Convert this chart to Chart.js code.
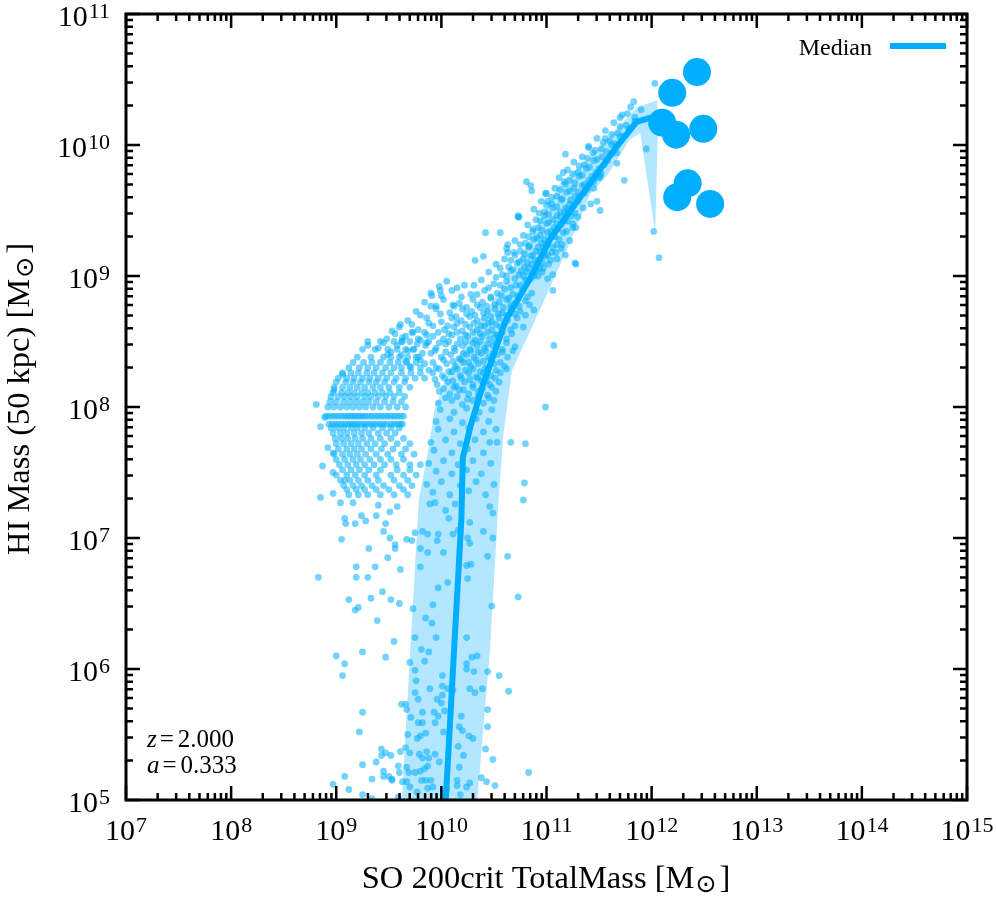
<!DOCTYPE html>
<html>
<head>
<meta charset="utf-8">
<title>HI Mass vs SO 200crit TotalMass</title>
<script src="https://cdn.jsdelivr.net/npm/chart.js@4.4.1/dist/chart.umd.min.js"></script>
<style>
  html, body { margin: 0; padding: 0; background: #fff; }
  #wrap { width: 996px; height: 900px; }
</style>
</head>
<body>
<div id="wrap"><canvas id="hiMassChart" width="996" height="900"></canvas></div>
<script>
// axis decades (tick labels are 10^n)
const xTickExponents = [7, 8, 9, 10, 11, 12, 13, 14, 15];
const yTickExponents = [5, 6, 7, 8, 9, 10, 11];
const minorMultipliers = [1, 2, 3, 4, 5, 6, 7, 8, 9];

// median curve
const medianMass = [1.1e10, 1.55e10, 1.6e10, 1.9e10, 2.5e10, 4.1e10, 7.1e10, 1.1e11, 2.0e11, 4.4e11, 7.2e11, 9.4e11, 1.17e12];
const medianHI   = [1e5, 1.4e7, 4.1e7, 7.2e7, 1.5e8, 4.6e8, 9.8e8, 1.95e9, 3.8e9, 9.2e9, 1.5e10, 1.6e10, 1.65e10];

// percentile band: upper edge (bottom -> top), then lower edge (top -> bottom)
const bandUpperMass = [4.2e9, 6.1e9, 7.5e9, 8.7e9, 1.2e10, 2.3e10, 4.5e10, 7.4e10, 1.35e11, 2.6e11, 7.3e11, 1.13e12];
const bandUpperHI   = [1e5, 1.95e7, 4.7e7, 1e8, 1.9e8, 4.6e8, 1.0e9, 2.1e9, 5.1e9, 8.1e9, 1.95e10, 2.2e10];
const bandLowerMass = [1.15e12, 1.08e12, 7.8e11, 6.2e11, 3.8e11, 2.6e11, 1.57e11, 8.1e10, 4.7e10, 3.9e10, 3.5e10, 2.9e10, 2.2e10];
const bandLowerHI   = [1.4e10, 2.15e9, 1.24e10, 1.1e10, 5.9e9, 4.2e9, 1.6e9, 4.9e8, 1.9e8, 6.3e7, 1.95e7, 1.4e6, 1e5];

// most massive haloes (big markers)
const haloMass = [2.7e12, 1.57e12, 1.26e12, 1.71e12, 3.1e12, 2.2e12, 1.75e12, 3.6e12];
const haloHI   = [3.6e10, 2.5e10, 1.48e10, 1.2e10, 1.33e10, 5.1e9, 4.0e9, 3.55e9];

// individual haloes, stored as [log10 M200, log10 M_HI]
const sparseTailLog = [
  [9.04,7.27],[9.16,7.27],[9.40,7.25],[9.51,7.20],[9.58,7.24],[9.08,7.15],[9.09,7.11],[9.18,7.11],[9.24,7.17],[9.28,7.13],
  [9.38,7.17],[9.47,7.11],[9.45,7.05],[9.05,6.99],[9.51,7.00],[9.56,6.95],[9.56,6.92],[9.31,6.92],[9.67,6.99],[9.72,6.98],
  [9.75,7.04],[9.82,7.05],[9.87,7.03],[9.97,7.03],[9.96,6.98],[9.80,6.92],[9.87,6.89],[10.02,6.89],[10.11,7.03],[10.16,7.06],
  [10.25,7.00],[10.27,6.96],[10.40,7.05],[10.49,7.00],[10.44,6.86],[10.49,7.19],[10.46,7.24],[10.27,7.12],[10.04,7.21],[10.13,7.26],
  [9.94,7.27],[9.89,7.26],[10.07,7.15],[10.63,6.86],[10.78,7.29],[9.49,6.85],[8.83,6.70],[9.19,6.78],[9.19,6.70],[9.30,6.70],
  [9.37,6.78],[9.61,6.76],[9.80,6.78],[10.24,6.79],[10.28,6.80],[10.25,6.69],[9.97,6.62],[10.06,6.66],[9.12,6.53],[9.21,6.47],
  [9.18,6.45],[9.33,6.54],[9.44,6.59],[9.52,6.53],[9.60,6.50],[9.73,6.46],[9.92,6.49],[10.48,6.48],[10.73,6.55],[9.39,6.37],
  [9.85,6.39],[9.91,6.35],[9.75,6.24],[9.95,6.24],[10.24,6.24],[9.55,6.21],[9.00,6.10],[9.25,6.13],[9.47,6.09],[9.08,6.04],
  [9.06,5.95],[9.81,6.15],[9.88,6.13],[9.70,6.05],[9.84,6.06],[9.75,5.99],[9.76,5.91],[10.01,5.95],[10.24,6.04],[10.24,6.00],
  [10.31,5.98],[10.29,6.09],[10.34,6.10],[10.44,5.98],[10.55,5.95],[10.27,5.85],[10.32,5.82],[10.39,5.85],[10.64,5.83],[9.89,5.85],
  [10.01,5.87],[10.01,5.80],[10.06,5.85],[10.11,5.84],[9.75,5.82],[9.78,5.77],[9.62,5.73],[9.66,5.73],[9.67,5.69],[9.96,5.77],
  [10.00,5.74],[10.03,5.68],[9.82,5.67],[9.93,5.67],[9.97,5.64],[10.19,5.64],[10.44,5.69],[9.25,5.67],[9.22,5.52],[9.71,5.63],
  [9.78,5.59],[9.82,5.59],[9.94,5.59],[10.02,5.52],[9.85,5.51],[9.68,5.50],[9.77,5.47],[9.80,5.49],[10.17,5.56],[10.20,5.53],
  [10.26,5.49],[10.30,5.47],[10.44,5.56],[9.66,5.40],[10.16,5.41],[10.42,5.39],[9.43,5.39],[9.43,5.34],[9.47,5.36],[9.52,5.34],
  [9.61,5.37],[9.70,5.36],[9.79,5.35],[9.82,5.32],[9.86,5.37],[9.88,5.32],[9.94,5.35],[9.98,5.29],[10.17,5.25],[10.21,5.34],
  [10.49,5.31],[9.25,5.27],[9.38,5.29],[9.45,5.22],[9.50,5.18],[9.53,5.15],[9.59,5.26],[9.60,5.21],[9.67,5.25],[9.69,5.21],
  [9.75,5.21],[9.80,5.22],[9.84,5.24],[9.87,5.26],[9.90,5.15],[9.85,5.15],[9.81,5.15],[9.67,5.14],[9.63,5.14],[9.70,5.10],
  [9.77,5.06],[9.87,5.09],[9.92,5.10],[9.08,5.18],[9.34,5.16],[9.45,5.18],[9.53,5.16],[10.15,5.15],[10.15,5.11],[10.24,5.10],
  [10.27,5.13],[10.38,5.17],[10.43,5.14],[10.51,5.11],[10.83,5.21],[8.97,5.12],[9.12,5.08],[9.25,5.04],[9.34,5.01],[10.18,5.04],
  [10.05,5.08],[9.59,5.02]
];

const outlierLog = [
  [8.81,8.02],[8.98,8.13],[8.85,7.85],[8.89,7.92],[8.92,7.69],[8.87,7.55],[8.97,7.65],[8.97,7.50],[9.08,7.44],[8.85,7.31],
  [8.97,7.34],[9.06,8.25],[9.30,8.47],[9.49,8.40],[9.61,8.63],[9.53,8.58],[9.63,8.53],[9.73,8.57],[9.84,8.57],[9.78,8.52],
  [9.86,8.49],[9.99,8.89],[9.91,8.85],[9.95,8.77],[10.12,8.77],
  [12.03,10.47],[11.83,10.33],[11.95,9.97],[11.74,9.73],[11.28,9.09],[10.81,9.72],[10.86,9.65],[12.02,9.34],[12.07,9.14],
  [11.40,9.98],[11.56,10.05],[11.70,10.21],[11.77,10.24],[11.67,9.86],[11.51,9.76],[11.48,9.57],[11.28,9.37],[11.16,9.79],
  [11.19,9.47],[10.99,9.63],[11.01,9.57],[10.73,9.45],[10.63,9.18],[10.42,9.33],[10.63,9.24],[10.32,9.12],[10.73,9.46],
  [11.07,8.47],[10.99,8.00],[11.27,9.10],[11.51,9.50],[11.06,8.89],[11.18,9.16],[10.79,7.42],[10.66,7.73],[10.80,7.72],[10.53,7.73]
];

// low-mass clump: HI mass comes in discrete rows, [log10 M_HI, [log10 M200 ...]]
const leftClusterRows = [
  [8.50, [9.30, 9.42, 9.55, 9.63, 9.70]],
  [8.44, [9.25, 9.37, 9.49, 9.58, 9.66, 9.74]],
  [8.38, [9.20, 9.33, 9.45, 9.52, 9.60, 9.68, 9.76]],
  [8.34, [9.16, 9.26, 9.34, 9.42, 9.51, 9.59, 9.67, 9.76]],
  [8.30, [9.12, 9.22, 9.30, 9.38, 9.47, 9.55, 9.62, 9.71, 9.80]],
  [8.26, [9.06, 9.14, 9.21, 9.29, 9.36, 9.44, 9.52, 9.62, 9.71, 9.80]],
  [8.22, [9.02, 9.10, 9.17, 9.25, 9.32, 9.40, 9.48, 9.57, 9.66, 9.75, 9.84]],
  [8.19, [9.00, 9.09, 9.16, 9.23, 9.31, 9.38, 9.46, 9.55, 9.65]],
  [8.15, [8.98, 9.06, 9.13, 9.20, 9.27, 9.35, 9.42, 9.50, 9.60, 9.70]],
  [8.11, [8.97, 9.05, 9.11, 9.17, 9.24, 9.30, 9.37, 9.44, 9.51, 9.60]],
  [8.08, [8.95, 9.02, 9.08, 9.14, 9.20, 9.27, 9.33, 9.40, 9.47, 9.55, 9.65]],
  [8.04, [8.94, 9.00, 9.07, 9.13, 9.19, 9.25, 9.31, 9.38, 9.46, 9.54, 9.62]],
  [8.00, [8.92, 8.98, 9.04, 9.10, 9.16, 9.22, 9.28, 9.35, 9.42, 9.50, 9.58, 9.66]],
  [7.93, [8.90, 8.93, 8.96, 8.99, 9.02, 9.05, 9.08, 9.105, 9.13, 9.155, 9.18, 9.205, 9.23, 9.255, 9.28, 9.31, 9.34, 9.37, 9.40, 9.43, 9.46, 9.49, 9.52, 9.55, 9.58, 9.61, 9.64]],
  [7.87, [8.93, 8.96, 8.99, 9.02, 9.05, 9.08, 9.11, 9.135, 9.16, 9.185, 9.21, 9.24, 9.27, 9.30, 9.33, 9.36, 9.39, 9.42, 9.45, 9.48, 9.52, 9.55, 9.58, 9.61, 9.63]],
  [7.84, [8.95, 9.01, 9.07, 9.14, 9.20, 9.27, 9.35, 9.44, 9.52, 9.60]],
  [7.80, [8.97, 9.04, 9.10, 9.17, 9.24, 9.31, 9.40, 9.48, 9.56]],
  [7.76, [8.99, 9.05, 9.11, 9.18, 9.25, 9.33, 9.42, 9.52, 9.64]],
  [7.72, [9.00, 9.07, 9.14, 9.21, 9.29, 9.37, 9.46, 9.58, 9.70]],
  [7.68, [9.02, 9.10, 9.17, 9.24, 9.33, 9.43, 9.54, 9.66]],
  [7.64, [8.98, 9.06, 9.13, 9.20, 9.28, 9.38, 9.49, 9.62, 9.74]],
  [7.60, [9.00, 9.08, 9.16, 9.23, 9.32, 9.42, 9.52, 9.64]],
  [7.56, [9.03, 9.11, 9.19, 9.27, 9.36, 9.46, 9.57, 9.70, 9.80]],
  [7.52, [9.06, 9.14, 9.22, 9.31, 9.42, 9.58, 9.70]],
  [7.48, [9.00, 9.10, 9.18, 9.27, 9.38, 9.52, 9.64, 9.76]],
  [7.44, [9.04, 9.13, 9.21, 9.30, 9.40, 9.55, 9.68]],
  [7.40, [9.07, 9.16, 9.24, 9.34, 9.45, 9.60, 9.72]],
  [7.37, [9.10, 9.19, 9.27, 9.38, 9.50, 9.64]],
  [7.33, [9.12, 9.21, 9.30, 9.42, 9.55, 9.68]]
];

const bridgeLog = [
  [10.05,8.96],[10.22,8.93],[10.38,8.97],[10.50,8.94],[10.62,8.96],[10.71,8.93],[10.80,8.97],
  [9.98,8.92],[10.15,8.91],[10.31,8.93],[10.45,8.91],[10.56,8.93],[10.66,8.91],[10.75,8.93],
  [9.90,8.87],[10.10,8.89],[10.28,8.86],[10.41,8.89],[10.53,8.87],[10.60,8.90],[10.68,8.86],[10.77,8.89],[10.86,8.87],
  [10.00,8.85],[10.19,8.84],[10.34,8.86],[10.47,8.84],[10.57,8.85],[10.64,8.83],[10.73,8.85],[10.82,8.84],
  [9.84,8.80],[10.02,8.82],[10.17,8.79],[10.30,8.82],[10.39,8.80],[10.47,8.83],[10.55,8.80],[10.62,8.82],[10.70,8.79],[10.80,8.81],
  [9.90,8.77],[10.11,8.78],[10.24,8.76],[10.34,8.78],[10.43,8.77],[10.51,8.78],[10.59,8.76],[10.66,8.78],[10.74,8.77],[10.84,8.78],
  [9.76,8.73],[9.95,8.75],[10.08,8.72],[10.20,8.75],[10.29,8.73],[10.37,8.76],[10.44,8.73],[10.51,8.75],[10.58,8.72],[10.66,8.75],[10.75,8.73],[10.88,8.74],
  [9.80,8.70],[9.99,8.71],[10.14,8.69],[10.24,8.71],[10.32,8.70],[10.40,8.72],[10.47,8.69],[10.54,8.71],[10.62,8.70],[10.70,8.71],[10.80,8.70],
  [9.68,8.66],[9.86,8.68],[10.00,8.65],[10.10,8.68],[10.19,8.66],[10.27,8.69],[10.34,8.66],[10.41,8.68],[10.48,8.65],[10.55,8.68],[10.63,8.66],[10.72,8.68],
  [9.72,8.63],[9.88,8.64],[10.06,8.62],[10.15,8.64],[10.23,8.63],[10.31,8.64],[10.38,8.62],[10.45,8.64],[10.52,8.63],[10.60,8.64],[10.70,8.62],
  [9.60,8.61],[9.78,8.59],[9.92,8.62],[10.03,8.59],[10.12,8.61],[10.20,8.58],[10.27,8.61],[10.34,8.59],[10.41,8.62],[10.48,8.59],[10.56,8.61],[10.66,8.59],[10.78,8.61],
  [9.56,8.56],[9.72,8.57],[9.86,8.55],[9.97,8.57],[10.07,8.56],[10.15,8.57],[10.23,8.55],[10.30,8.57],[10.37,8.56],[10.44,8.57],[10.51,8.55],[10.58,8.57],[10.67,8.56],
  [9.48,8.52],[9.66,8.54],[9.80,8.51],[9.92,8.54],[10.02,8.52],[10.10,8.55],[10.18,8.52],[10.25,8.54],[10.32,8.51],[10.39,8.54],[10.46,8.52],[10.53,8.55],[10.62,8.52],
  [9.45,8.49],[9.62,8.50],[9.77,8.48],[9.88,8.50],[9.98,8.49],[10.07,8.50],[10.15,8.48],[10.23,8.50],[10.30,8.49],[10.37,8.50],[10.44,8.48],[10.52,8.50],[10.62,8.49],
  [9.40,8.45],[9.58,8.47],[9.73,8.44],[9.85,8.47],[9.95,8.45],[10.04,8.48],[10.12,8.45],[10.20,8.47],[10.27,8.44],[10.34,8.47],[10.41,8.45],[10.49,8.47],[10.58,8.44],[10.70,8.46],
  [9.52,8.42],[9.68,8.43],[9.82,8.41],[9.94,8.43],[10.04,8.42],[10.13,8.43],[10.21,8.41],[10.28,8.43],[10.35,8.42],[10.42,8.43],[10.49,8.41],[10.58,8.42],[10.68,8.43],
  [9.62,8.40],[9.78,8.38],[9.90,8.41],[10.00,8.38],[10.09,8.40],[10.17,8.37],[10.24,8.40],[10.31,8.38],[10.38,8.41],[10.45,8.38],[10.53,8.40],[10.63,8.38],
  [9.66,8.35],[9.80,8.36],[9.92,8.34],[10.02,8.36],[10.11,8.35],[10.19,8.36],[10.26,8.34],[10.33,8.36],[10.40,8.35],[10.47,8.36],[10.56,8.34],
  [9.70,8.31],[9.84,8.33],[9.95,8.30],[10.05,8.33],[10.13,8.31],[10.21,8.34],[10.28,8.31],[10.35,8.33],[10.42,8.30],[10.50,8.33],[10.60,8.31],
  [9.88,8.28],[9.98,8.29],[10.07,8.27],[10.15,8.29],[10.23,8.28],[10.30,8.29],[10.37,8.27],[10.44,8.29],[10.52,8.28],[10.62,8.29],
  [9.92,8.26],[10.01,8.24],[10.10,8.27],[10.18,8.24],[10.26,8.26],[10.33,8.23],[10.40,8.26],[10.47,8.24],[10.56,8.26],
  [9.94,8.21],[10.03,8.22],[10.11,8.20],[10.19,8.22],[10.27,8.21],[10.35,8.22],[10.43,8.20],[10.51,8.22],
  [9.96,8.17],[10.06,8.19],[10.14,8.16],[10.22,8.19],[10.30,8.17],[10.38,8.20],[10.46,8.17],[10.55,8.19],
  [10.02,8.14],[10.12,8.15],[10.21,8.13],[10.30,8.15],[10.39,8.14],[10.48,8.15],
  [9.98,8.12],[10.08,8.10],[10.17,8.13],[10.26,8.10],[10.35,8.12],[10.44,8.09],[10.52,8.12],
  [10.04,8.07],[10.15,8.08],[10.25,8.06],[10.35,8.08],[10.45,8.07],
  [9.97,8.03],[10.10,8.05],[10.20,8.02],[10.30,8.05],[10.40,8.03],[10.50,8.05],
  [9.99,7.98],[10.12,7.96],[10.24,7.99],[10.36,7.96],[10.48,7.98],
  [9.95,7.89],[10.08,7.91],[10.20,7.88],[10.33,7.91],[10.45,7.89],
  [9.97,7.83],[10.12,7.81],[10.26,7.84],[10.40,7.81],[10.52,7.83],
  [9.90,7.73],[10.04,7.75],[10.18,7.72],[10.32,7.75],[10.46,7.73],
  [9.93,7.67],[10.10,7.65],[10.25,7.68],[10.40,7.65],
  [9.88,7.57],[10.02,7.59],[10.16,7.56],[10.30,7.59],[10.47,7.57],
  [9.95,7.51],[10.10,7.49],[10.24,7.52],[10.38,7.49],
  [9.86,7.41],[10.00,7.43],[10.18,7.40],[10.33,7.43],[10.50,7.41],
  [9.92,7.35],[10.08,7.33],[10.26,7.36],[10.42,7.33]
];

const ridgeLog = [
  [10.52,8.99],[10.62,9.00],[10.70,8.98],[10.78,9.00],[10.85,8.98],[10.92,9.00],[11.01,8.98],
  [10.45,9.03],[10.58,9.01],[10.66,9.04],[10.74,9.01],[10.81,9.03],[10.88,9.00],[10.96,9.03],[11.06,9.01],
  [10.56,9.06],[10.68,9.05],[10.76,9.04],[10.83,9.06],[10.90,9.04],[10.97,9.06],
  [10.52,9.09],[10.64,9.07],[10.72,9.10],[10.79,9.07],[10.86,9.09],[10.93,9.06],[11.02,9.09],
  [10.66,9.12],[10.74,9.11],[10.82,9.10],[10.89,9.12],[10.96,9.10],[11.04,9.12],
  [10.40,9.15],[10.60,9.13],[10.70,9.16],[10.78,9.13],[10.85,9.15],[10.92,9.12],[10.99,9.15],[11.10,9.13],
  [10.69,9.18],[10.79,9.17],[10.87,9.16],[10.94,9.18],[11.01,9.16],[11.09,9.18],
  [10.62,9.21],[10.75,9.19],[10.83,9.22],[10.90,9.19],[10.97,9.21],[11.05,9.18],[11.14,9.21],
  [10.75,9.24],[10.84,9.23],[10.92,9.22],[10.99,9.24],[11.06,9.22],[11.15,9.24],
  [10.70,9.27],[10.80,9.25],[10.88,9.28],[10.95,9.25],[11.02,9.27],[11.10,9.24],[11.22,9.27],
  [10.83,9.30],[10.91,9.29],[10.98,9.28],[11.05,9.30],[11.12,9.28],
  [10.56,9.33],[10.78,9.31],[10.87,9.34],[10.94,9.31],[11.01,9.33],[11.08,9.30],[11.16,9.33],
  [10.87,9.36],[10.96,9.35],[11.04,9.34],[11.11,9.36],[11.19,9.34],
  [10.82,9.39],[10.92,9.37],[11.00,9.40],[11.07,9.37],[11.14,9.39],[11.25,9.37],
  [10.94,9.42],[11.02,9.41],[11.10,9.40],[11.17,9.42],[11.25,9.40],
  [10.74,9.45],[10.90,9.43],[10.98,9.46],[11.06,9.43],[11.13,9.45],[11.20,9.42],[11.30,9.45],
  [10.93,9.48],[11.02,9.47],[11.10,9.46],[11.17,9.48],[11.24,9.46],
  [10.88,9.51],[10.98,9.49],[11.06,9.52],[11.13,9.49],[11.20,9.51],[11.27,9.48],
  [11.00,9.54],[11.10,9.53],[11.18,9.52],[11.26,9.54],[11.35,9.52],
  [10.95,9.57],[11.05,9.55],[11.14,9.58],[11.22,9.55],[11.30,9.57],[11.42,9.55],
  [11.05,9.60],[11.15,9.59],[11.23,9.58],[11.31,9.60],
  [11.00,9.63],[11.10,9.61],[11.19,9.64],[11.27,9.61],[11.36,9.63],
  [11.13,9.66],[11.22,9.65],[11.30,9.64],[11.39,9.66],
  [10.85,9.69],[11.08,9.67],[11.18,9.70],[11.26,9.67],[11.34,9.69],[11.45,9.67],
  [11.17,9.72],[11.27,9.71],[11.36,9.70],[11.45,9.72],
  [11.12,9.75],[11.22,9.73],[11.31,9.76],[11.40,9.73],[11.50,9.75],
  [11.25,9.78],[11.34,9.77],[11.43,9.76],[11.52,9.78],
  [11.20,9.81],[11.30,9.79],[11.38,9.82],[11.47,9.79],
  [11.31,9.84],[11.41,9.83],[11.50,9.82],
  [11.26,9.87],[11.36,9.85],[11.45,9.88],[11.55,9.85],
  [11.39,9.90],[11.48,9.89],[11.58,9.88],
  [11.18,9.93],[11.34,9.91],[11.44,9.94],[11.53,9.91],[11.62,9.93],
  [11.46,9.96],[11.57,9.95],[11.67,9.94],
  [11.40,9.99],[11.52,9.97],[11.62,10.00],
  [11.54,10.02],[11.65,10.01],
  [11.48,10.05],[11.60,10.03],[11.70,10.06],
  [11.62,10.08],[11.73,10.07],
  [11.56,10.11],[11.68,10.09],[11.78,10.12],
  [11.70,10.14],[11.80,10.13],
  [11.64,10.17],[11.76,10.15],[11.84,10.18],
  [11.72,10.23],[11.84,10.21],
  [11.80,10.29],[11.90,10.27]
];

const BLUE = 'rgb(0, 174, 255)';
const SERIF = '"Liberation Serif", "Times New Roman", serif';

const zip = (xs, ys) => xs.map((v, i) => ({ x: v, y: ys[i] }));
const fromLog = ([lm, lh]) => ({ x: Math.pow(10, lm), y: Math.pow(10, lh) });

const clusterPairs = leftClusterRows.flatMap(([lh, masses]) => masses.map(lm => [lm, lh]));
const scatterPoints = [...sparseTailLog, ...outlierLog, ...clusterPairs, ...bridgeLog, ...ridgeLog].map(fromLog);
const bandPolygon = zip(bandUpperMass, bandUpperHI).concat(zip(bandLowerMass, bandLowerHI));

function logTicks(exps) {
  const last = exps[exps.length - 1];
  return exps.flatMap(e => (e === last ? [1] : minorMultipliers)
    .map(m => ({ value: m * Math.pow(10, e), major: m === 1 })));
}

// "10" with a raised exponent; align = 'center' or 'right'
function drawPower(ctx, exp, x, y, align) {
  ctx.font = '30px ' + SERIF;
  const wBase = ctx.measureText('10').width;
  ctx.font = '22px ' + SERIF;
  const wExp = ctx.measureText(String(exp)).width;
  const total = wBase + 1 + wExp;
  const left = align === 'center' ? x - total / 2 : x - total;
  ctx.font = '30px ' + SERIF;
  ctx.fillText('10', left, y);
  ctx.font = '22px ' + SERIF;
  ctx.fillText(String(exp), left + wBase + 1, y - 8.5);
}

// "<text> [M☉]" with a subscript sun symbol, centred on 0
function drawMassTitle(ctx, text) {
  const main = '32.5px ' + SERIF;
  const sun = '25px "DejaVu Sans", sans-serif';
  ctx.font = main;
  const w1 = ctx.measureText(text + ' [M').width;
  const w3 = ctx.measureText(']').width;
  ctx.font = sun;
  const w2 = ctx.measureText('\u2299').width;
  const total = w1 + 1 + w2 + 3 + w3;
  let x = -total / 2;
  ctx.font = main;
  ctx.fillText(text + ' [M', x, 0);
  x += w1 + 1;
  ctx.font = sun;
  ctx.fillText('\u2299', x, 4);
  x += w2 + 3;
  ctx.font = main;
  ctx.fillText(']', x, 0);
}

const frameAndLabels = {
  id: 'frameAndLabels',
  afterDraw(chart) {
    const { ctx, chartArea: a, scales: { x, y } } = chart;
    ctx.save();
    ctx.strokeStyle = '#000';
    ctx.fillStyle = '#000';
    ctx.textAlign = 'left';
    ctx.textBaseline = 'alphabetic';

    // inward ticks on all four sides
    ctx.lineWidth = 2.5;
    ctx.beginPath();
    logTicks(xTickExponents).forEach(t => {
      const px = x.getPixelForValue(t.value);
      const len = t.major ? 14 : 7;
      ctx.moveTo(px, a.bottom); ctx.lineTo(px, a.bottom - len);
      ctx.moveTo(px, a.top); ctx.lineTo(px, a.top + len);
    });
    logTicks(yTickExponents).forEach(t => {
      const py = y.getPixelForValue(t.value);
      const len = t.major ? 14 : 7;
      ctx.moveTo(a.left, py); ctx.lineTo(a.left + len, py);
      ctx.moveTo(a.right, py); ctx.lineTo(a.right - len, py);
    });
    ctx.stroke();

    ctx.lineWidth = 3;
    ctx.strokeRect(a.left, a.top, a.right - a.left, a.bottom - a.top);

    // tick labels
    xTickExponents.forEach(e => drawPower(ctx, e, x.getPixelForValue(Math.pow(10, e)), a.bottom + 40, 'center'));
    yTickExponents.forEach(e => drawPower(ctx, e, a.left - 16, y.getPixelForValue(Math.pow(10, e)) + 12, 'right'));

    // axis titles
    ctx.save();
    ctx.translate(546, 888);
    drawMassTitle(ctx, 'SO 200crit TotalMass');
    ctx.restore();

    ctx.save();
    ctx.translate(29, 399);
    ctx.rotate(-Math.PI / 2);
    drawMassTitle(ctx, 'HI Mass (50 kpc)');
    ctx.restore();

    // legend
    ctx.font = '24px ' + SERIF;
    ctx.textAlign = 'right';
    ctx.fillText('Median', a.right - 95, a.top + 41);
    ctx.strokeStyle = BLUE;
    ctx.lineWidth = 6;
    ctx.beginPath();
    ctx.moveTo(a.right - 77, a.top + 32);
    ctx.lineTo(a.right - 21, a.top + 32);
    ctx.stroke();

    // redshift note
    ctx.textAlign = 'left';
    [['z', '2.000', a.bottom - 53], ['a', '0.333', a.bottom - 27]].forEach(([sym, val, base]) => {
      let px = a.left + 21;
      ctx.font = 'italic 25px ' + SERIF;
      ctx.fillText(sym, px, base);
      px += ctx.measureText(sym).width + 3;
      ctx.font = '25px ' + SERIF;
      ctx.fillText('=', px, base);
      px += ctx.measureText('=').width + 4;
      ctx.fillText(val, px, base);
    });
    ctx.restore();
  }
};

document.addEventListener('DOMContentLoaded', function() {
  const canvas = document.getElementById('hiMassChart');
  new Chart(canvas, {
    type: 'scatter',
    data: {
      datasets: [
        {
          label: 'Haloes (massive)',
          type: 'scatter',
          data: zip(haloMass, haloHI),
          pointRadius: 14,
          pointBackgroundColor: BLUE,
          pointBorderWidth: 0,
          order: 0
        },
        {
          label: 'Median',
          type: 'line',
          data: zip(medianMass, medianHI),
          borderColor: BLUE,
          borderWidth: 6,
          pointRadius: 0,
          tension: 0,
          fill: false,
          order: 1
        },
        {
          label: 'Haloes',
          type: 'scatter',
          data: scatterPoints,
          pointRadius: 3.4,
          pointBackgroundColor: 'rgba(0, 174, 255, 0.55)',
          pointBorderWidth: 0,
          order: 2
        },
        {
          label: 'Percentile band',
          type: 'line',
          data: bandPolygon,
          borderWidth: 0,
          borderColor: 'rgba(0,0,0,0)',
          backgroundColor: 'rgba(0, 174, 255, 0.30)',
          pointRadius: 0,
          tension: 0,
          fill: 'shape',
          order: 3
        }
      ]
    },
    options: {
      responsive: false,
      devicePixelRatio: 1,
      animation: false,
      events: [],
      layout: { padding: { left: 126, right: 29, top: 14, bottom: 100 } },
      scales: {
        x: { type: 'logarithmic', min: 1e7, max: 1e15, display: false },
        y: { type: 'logarithmic', min: 1e5, max: 1e11, display: false }
      },
      plugins: {
        legend: { display: false },
        tooltip: { enabled: false }
      }
    },
    plugins: [frameAndLabels]
  });
});
</script>
</body>
</html>
